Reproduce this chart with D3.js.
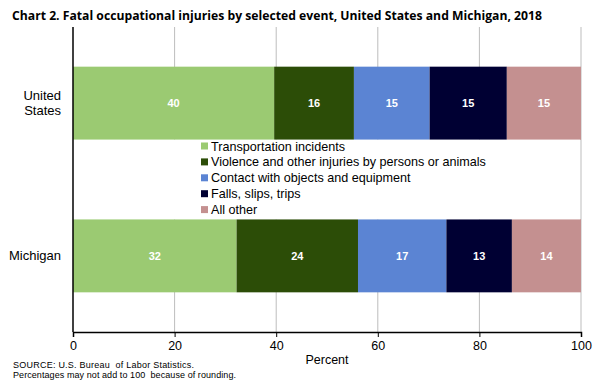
<!DOCTYPE html>
<html>
<head>
<meta charset="utf-8">
<script src="https://cdn.jsdelivr.net/npm/d3@7"></script>
<style>
  body { margin: 0; background: #fff; }
  text { font-family: "Liberation Sans", Arial, sans-serif; }
</style>
</head>
<body>
<div id="chart"></div>
<script>
// data (shares in percent)
var regions = ["United States", "Michigan"];
var events = ["Transportation incidents", "Violence and other injuries by persons or animals",
  "Contact with objects and equipment", "Falls, slips, trips", "All other"];
var usShares = [39.6, 15.7, 14.9, 15.2, 14.6];
var miShares = [32.2, 23.9, 17.4, 12.9, 13.6];
var colors = ["#9bca72", "#2c4d07", "#5b84d3", "#000033", "#c49090"];
var xTicks = [0, 20, 40, 60, 80, 100];

var W = 600, H = 384;
var plotLeft = 73, plotRight = 581, plotTop = 27, plotBottom = 332;

var svg = d3.select("#chart").append("svg")
  .attr("width", W).attr("height", H);

var x = d3.scaleLinear().domain([0, 100]).range([plotLeft, plotRight]);
var y = d3.scaleBand().domain(regions).range([plotTop, plotBottom])
  .paddingInner(0.521).paddingOuter(0.26);

// title
svg.append("text")
  .attr("x", 12).attr("y", 20)
  .style("font-family", "'Open Sans', sans-serif")
  .style("font-weight", "bold").style("font-size", "12.5px")
  .attr("textLength", 530).attr("lengthAdjust", "spacingAndGlyphs")
  .text("Chart 2.  Fatal occupational injuries by selected event, United States and Michigan, 2018");

// gridlines
svg.append("g").selectAll("line")
  .data(xTicks.slice(1))
  .enter().append("line")
  .attr("x1", function(d){ return x(d); })
  .attr("x2", function(d){ return x(d); })
  .attr("y1", plotTop).attr("y2", plotBottom)
  .attr("stroke", "#bdbdbd").attr("stroke-width", 1);

// stacked bars
var rows = [
  { name: "United States", vals: usShares },
  { name: "Michigan", vals: miShares }
];
rows.forEach(function(r) {
  var acc = 0;
  var segs = r.vals.map(function(v, i) {
    var s = { start: acc, val: v, i: i };
    acc += v;
    return s;
  });
  var g = svg.append("g");
  g.selectAll("rect").data(segs).enter().append("rect")
    .attr("x", function(d){ return x(d.start); })
    .attr("width", function(d){ return x(d.start + d.val) - x(d.start); })
    .attr("y", y(r.name))
    .attr("height", y.bandwidth())
    .attr("fill", function(d){ return colors[d.i]; });
  g.selectAll("text").data(segs).enter().append("text")
    .attr("x", function(d){ return x(d.start + d.val / 2); })
    .attr("y", y(r.name) + y.bandwidth() / 2 + 4)
    .attr("text-anchor", "middle")
    .attr("fill", "#fff")
    .style("font-weight", "bold").style("font-size", "11px")
    .text(function(d){ return Math.round(d.val); });
});

// x axis
var xAxis = svg.append("g")
  .attr("transform", "translate(0," + plotBottom + ")")
  .call(d3.axisBottom(x).tickValues(xTicks).tickSize(5).tickPadding(4));
xAxis.select(".domain").attr("stroke", "#000").attr("stroke-width", 1.5);
xAxis.selectAll(".tick line").attr("stroke", "#000");
xAxis.selectAll(".tick text")
  .style("font-family", "'Liberation Sans', Arial, sans-serif")
  .style("font-size", "12.5px").attr("fill", "#000");

// legend box (white, hides gridlines between the bars)
var gapTop = y(regions[0]) + y.bandwidth();
var gapBottom = y(regions[1]);
svg.append("rect")
  .attr("x", x(0)).attr("y", gapTop)
  .attr("width", x(100) - x(0) - 1).attr("height", gapBottom - gapTop)
  .attr("fill", "#fff");

// left axis line
svg.append("line")
  .attr("x1", plotLeft).attr("x2", plotLeft).attr("y1", plotTop).attr("y2", plotBottom)
  .attr("stroke", "#000").attr("stroke-width", 1.5);

// category labels
var catLines = { "United States": ["United", "States"], "Michigan": ["Michigan"] };
regions.forEach(function(r) {
  var lines = catLines[r];
  var cy = y(r) + y.bandwidth() / 2;
  var t = svg.append("text")
    .attr("text-anchor", "end")
    .style("font-size", "13px");
  lines.forEach(function(l, i) {
    t.append("tspan")
      .attr("x", 61)
      .attr("y", cy + 4.5 + (i - (lines.length - 1) / 2) * 15)
      .text(l);
  });
});

// legend
var legend = svg.append("g").attr("transform", "translate(201,146)");
var items = legend.selectAll("g").data(events).enter().append("g")
  .attr("transform", function(d, i){ return "translate(0," + i * 15.9 + ")"; });
items.append("rect")
  .attr("x", 0).attr("y", -3.5).attr("width", 7).attr("height", 7)
  .attr("fill", function(d, i){ return colors[i]; });
items.append("text")
  .attr("x", 10).attr("y", 4.5)
  .style("font-size", "12.6px")
  .text(function(d){ return d; });

// axis title
svg.append("text")
  .attr("x", x(50)).attr("y", 364)
  .attr("text-anchor", "middle")
  .style("font-size", "12.5px")
  .text("Percent");

// footnotes
svg.append("text")
  .attr("x", 13).attr("y", 367.5)
  .attr("xml:space", "preserve")
  .attr("textLength", 181).attr("lengthAdjust", "spacing")
  .style("font-size", "9px")
  .text("SOURCE: U.S. Bureau  of Labor Statistics.");
svg.append("text")
  .attr("x", 13).attr("y", 377.5)
  .attr("xml:space", "preserve")
  .attr("textLength", 223).attr("lengthAdjust", "spacing")
  .style("font-size", "9px")
  .text("Percentages may not add to 100  because of rounding.");
</script>
</body>
</html>
